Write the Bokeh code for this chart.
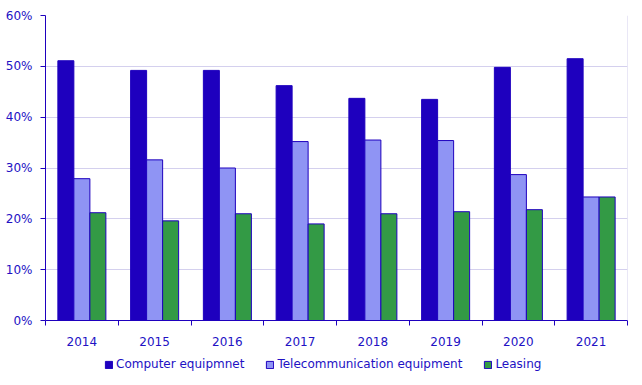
from bokeh.plotting import figure
from bokeh.layouts import column
from bokeh.models import FixedTicker, Range1d, Legend, LegendItem, Span
from bokeh.embed import file_html
from bokeh.resources import INLINE

years = ["2014", "2015", "2016", "2017", "2018", "2019", "2020", "2021"]
computer = [51.1, 49.2, 49.2, 46.2, 43.7, 43.5, 49.8, 51.5]
telecom = [27.9, 31.6, 30.0, 35.2, 35.5, 35.4, 28.7, 24.3]
leasing = [21.2, 19.6, 21.0, 19.0, 21.0, 21.4, 21.8, 24.3]
series_names = ["Computer equipmnet", "Telecommunication equipment", "Leasing"]
y_ticks = [0, 10, 20, 30, 40, 50, 60]

DARK = "#1E00BE"
TEXT = "#2211C4"
FILLS = [DARK, "#8F94F4", "#339A45"]
FONT = "DejaVu Sans"

n = len(years)
centers = [i + 0.5 for i in range(n)]
bw = 0.22

p = figure(width=642, height=350, output_backend="svg", toolbar_location=None,
           x_range=Range1d(0, n), y_range=Range1d(0, 60),
           min_border_left=45, min_border_right=15, min_border_top=15, min_border_bottom=30)
p.outline_line_color = None

for vals, off, col in zip([computer, telecom, leasing], [-bw, 0, bw], FILLS):
    p.vbar(x=[c + off for c in centers], top=vals, width=bw, bottom=0,
           fill_color=col, line_color=DARK, line_width=1)

# x axis
p.xaxis.ticker = FixedTicker(ticks=centers, minor_ticks=list(range(n + 1)))
p.xaxis.major_label_overrides = {c: y for c, y in zip(centers, years)}
p.xaxis.major_tick_line_color = None
p.xaxis.minor_tick_line_color = DARK
p.xaxis.minor_tick_in = 0
p.xaxis.minor_tick_out = 5
p.xaxis.axis_line_color = DARK
p.xaxis.major_label_text_color = TEXT
p.xaxis.major_label_text_font = FONT
p.xaxis.major_label_text_font_size = "12px"
p.xaxis.major_label_standoff = 10
p.xgrid.visible = False

# y axis
p.yaxis.ticker = FixedTicker(ticks=y_ticks, minor_ticks=[])
p.yaxis.major_label_overrides = {t: f"{t}%" for t in y_ticks}
p.yaxis.major_tick_line_color = DARK
p.yaxis.major_tick_in = 0
p.yaxis.major_tick_out = 5
p.yaxis.axis_line_color = DARK
p.yaxis.major_label_text_color = TEXT
p.yaxis.major_label_text_font = FONT
p.yaxis.major_label_text_font_size = "12px"
p.yaxis.major_label_standoff = 8
p.ygrid.grid_line_color = "#D4D0EE"
p.ygrid.grid_line_width = 1

p.add_layout(Span(location=n, dimension="height", line_color="#D4D0EE", line_width=1))

# legend figure (frame aligned with the main figure's frame by the column layout)
q = figure(width=642, height=35, output_backend="svg", toolbar_location=None,
           x_range=Range1d(0, 1), y_range=Range1d(0, 1), min_border=0,
           x_axis_location=None, y_axis_location=None)
q.outline_line_color = None
q.grid.visible = False
items = []
for name, col in zip(series_names, FILLS):
    r = q.vbar(x=[float("nan")], top=[float("nan")], width=0.1,
               fill_color=col, line_color=DARK, line_width=1)
    items.append(LegendItem(label=name, renderers=[r]))

legend = Legend(items=items, orientation="horizontal", location=(59, 14))
legend.border_line_color = None
legend.background_fill_alpha = 0
legend.padding = 0
legend.margin = 0
legend.spacing = 21
legend.glyph_width = 9
legend.glyph_height = 9
legend.label_standoff = 3
legend.label_text_font = FONT
legend.label_text_font_size = "12px"
legend.label_text_color = TEXT
legend.label_height = 14
q.add_layout(legend, "center")

layout = column(p, q, spacing=0)
open("out.html", "w").write(file_html(layout, INLINE))
